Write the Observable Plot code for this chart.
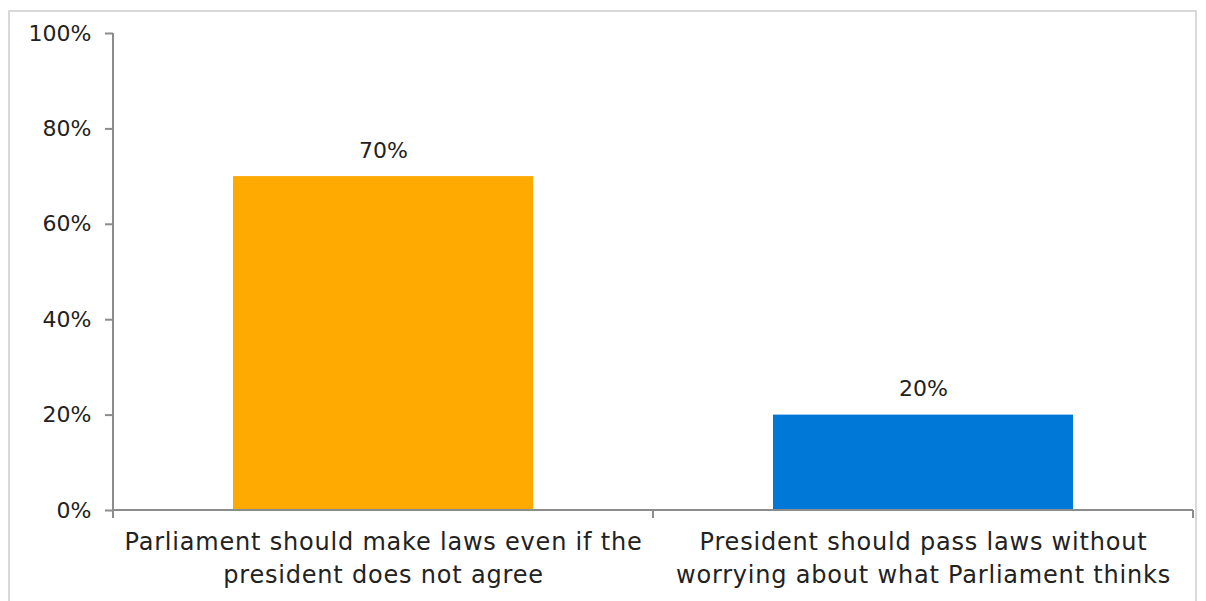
<!DOCTYPE html>
<html>
<head>
<meta charset="utf-8">
<script src="https://cdn.jsdelivr.net/npm/d3@7"></script>
<script src="https://cdn.jsdelivr.net/npm/@observablehq/plot@0.6"></script>
<style>
  html, body { margin: 0; padding: 0; background: #fff; }
  #wrap { position: relative; width: 1206px; height: 601px; overflow: hidden; }
  #border { position: absolute; left: 8px; top: 10px; width: 1189px; height: 600px; border: 2px solid #d9d9d9; box-sizing: border-box; }
  #chart { position: absolute; left: 0; top: 0; }
  svg text { font-family: "Century Gothic", "DejaVu Sans", sans-serif; }
  svg g[aria-label="x-axis tick label"] text { letter-spacing: 0.8px; }
</style>
</head>
<body>
<div id="wrap"><div id="border"></div><div id="chart"></div></div>
<script>
const categories = [
  "Parliament should make laws even if the\npresident does not agree",
  "President should pass laws without\nworrying about what Parliament thinks"
];
const values = [0.70, 0.20];
const colors = ["#FFAA00", "#0078D7"];
const yTicks = [0, 0.2, 0.4, 0.6, 0.8, 1.0];

const data = categories.map((c, i) => ({cat: c, value: values[i], color: colors[i]}));

const axisColor = "#8c8c8c";

// axis lines and band boundary ticks drawn from the scales
function axisLines(index, scales, values, dimensions) {
  const ns = "http://www.w3.org/2000/svg";
  const x = scales.x;
  const step = x.step();
  const bw = x.bandwidth();
  const y0 = scales.y(0);
  const g = document.createElementNS(ns, "g");
  const line = (x1, y1, x2, y2) => {
    const l = document.createElementNS(ns, "line");
    l.setAttribute("x1", x1); l.setAttribute("x2", x2);
    l.setAttribute("y1", y1); l.setAttribute("y2", y2);
    l.setAttribute("stroke", axisColor); l.setAttribute("stroke-width", 2);
    g.appendChild(l);
  };
  const xs = categories.map(c => x(c) - (step - bw) / 2);
  xs.push(x(categories[categories.length - 1]) + bw + (step - bw) / 2);
  for (const px of xs) line(px, y0, px, y0 + 8);
  line(dimensions.marginLeft, y0, dimensions.width - dimensions.marginRight, y0);
  line(dimensions.marginLeft, scales.y(1), dimensions.marginLeft, y0);
  return g;
}

const chart = Plot.plot({
  width: 1206,
  height: 601,
  marginLeft: 113,
  marginRight: 13,
  marginTop: 33,
  marginBottom: 91,
  style: {fontFamily: '"Century Gothic", "DejaVu Sans", sans-serif', fontSize: "22px", color: "#222", background: "transparent"},
  x: {domain: categories, paddingInner: 0.444, paddingOuter: 0.222, label: null},
  y: {domain: [0, 1], label: null},
  marks: [
    Plot.barY(data, {x: "cat", y: "value", fill: "color"}),
    Plot.text(data, {x: "cat", y: "value", text: d => Math.round(d.value * 100) + "%", lineAnchor: "bottom", dy: -19, fontSize: 22, fill: "#222"}),
    Plot.axisY({ticks: yTicks, tickFormat: d => Math.round(d * 100) + "%", tickSize: 8, tickPadding: 14, stroke: axisColor, strokeWidth: 2, fontSize: 22, fill: "#222", strokeOpacity: 1}),
    Plot.axisX({tickSize: 0, tickPadding: 16, fontSize: 24, fill: "#222", lineHeight: 1.375}),
    axisLines
  ]
});
document.getElementById("chart").appendChild(chart);
</script>
</body>
</html>
